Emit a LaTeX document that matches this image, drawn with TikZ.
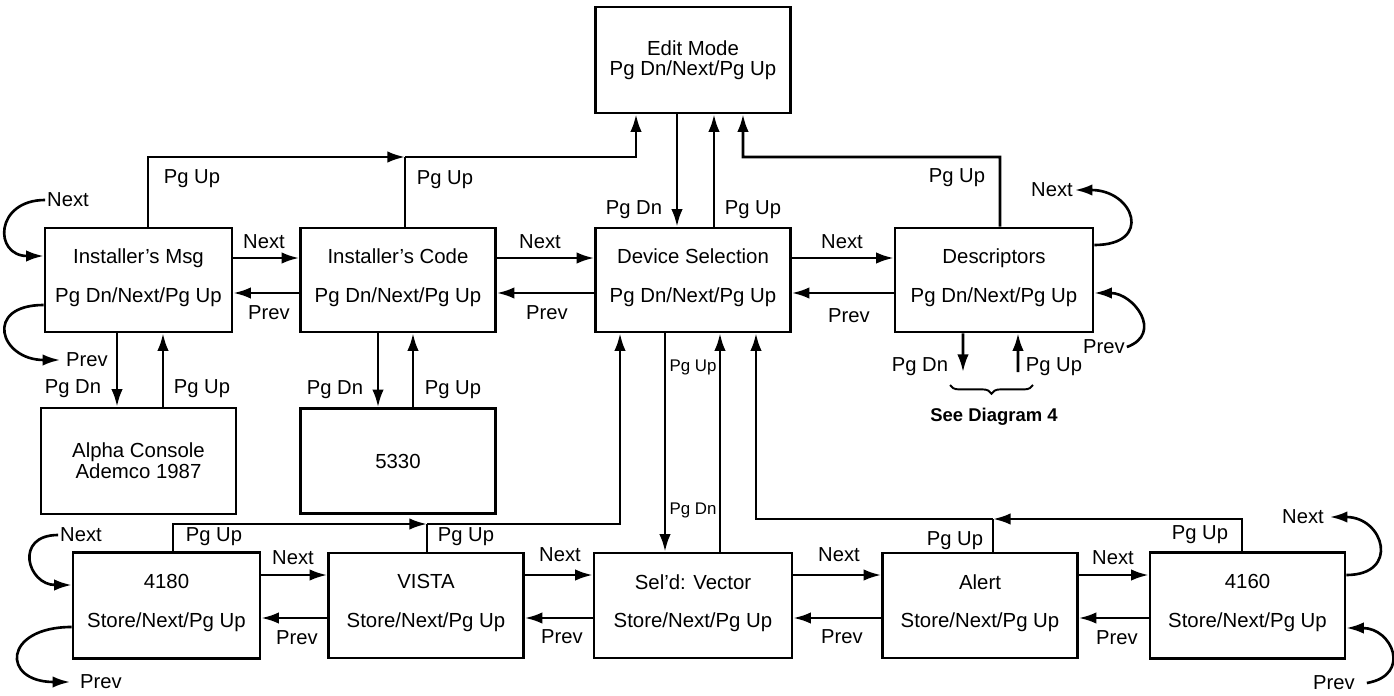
\documentclass[tikz,border=0pt]{standalone}
\usepackage{fontspec}
\setmainfont{Liberation Sans}
\usepackage{tikz}
\usetikzlibrary{arrows.meta, positioning, decorations.pathreplacing}
\tikzset{
  screen/.style={
    rectangle, draw=black, line width=1.5pt, fill=white,
    minimum width=3.9cm, minimum height=2.08cm, align=center,
    inner sep=2pt, font=\fontsize{11.6}{14}\selectfont
  },
  narrow/.style={minimum width=3.74cm},
  twotext/.style={text depth=5pt},
  keylabel/.style={inner sep=1pt, font=\fontsize{11.5}{13}\selectfont},
  smalllabel/.style={inner sep=1pt, font=\fontsize{9.6}{11}\selectfont},
  navarrow/.style={-{Latex[length=10pt,width=6.5pt]}, line width=1.5pt},
  navline/.style={line width=1.5pt},
  seebrace/.style={decorate, decoration={brace, mirror, amplitude=5pt}, line width=1.1pt},
}

\begin{document}
\begin{tikzpicture}[x=0.02cm, y=-0.02cm]
  \useasboundingbox (0,0) rectangle (1394,696);

  % --- Edit mode ---
  \node[screen, minimum height=2.12cm] (edit) at (693,60) {Edit Mode\\[-2.5pt]Pg Dn/Next/Pg Up};

  % --- Upper row ---
  \node[screen, narrow, twotext] (imsg) at (138.5,280) {Installer's Msg\\[8pt]Pg Dn/Next/Pg Up};
  \node[screen, twotext] (icode) at (398,280) {Installer's Code\\[8pt]Pg Dn/Next/Pg Up};
  \node[screen, twotext] (devsel) at (693,280) {Device Selection\\[8pt]Pg Dn/Next/Pg Up};
  \node[screen, twotext, minimum width=3.96cm] (desc) at (994,280) {Descriptors\\[8pt]Pg Dn/Next/Pg Up};

  % --- Sub screens ---
  \node[screen, minimum height=2.12cm] (alpha) at (138.5,461) {Alpha Console\\[-2pt]Ademco 1987};
  \node[screen, minimum height=2.1cm] (n5330) at (398,461) {5330};

  % --- Lower row ---
  \node[screen, narrow, twotext, minimum height=2.12cm] (d4180) at (166.5,605.5) {4180\\[8pt]Store/Next/Pg Up};
  \node[screen, twotext, minimum height=2.1cm] (vista) at (426,605.5) {VISTA\\[8pt]Store/Next/Pg Up};
  \node[screen, twotext, minimum height=2.1cm, minimum width=3.96cm] (vector) at (693,605.5) {Sel'd: Vector\\[8pt]Store/Next/Pg Up};
  \node[screen, twotext, minimum height=2.1cm] (alert) at (980,605.5) {Alert\\[8pt]Store/Next/Pg Up};
  \node[screen, twotext, minimum height=2.12cm] (d4160) at (1247.5,605.5) {4160\\[8pt]Store/Next/Pg Up};

  % --- Pg Up / Pg Dn to edit mode ---
  \coordinate (jtop) at (405,157);
  \coordinate (jright) at (743,157);
  \draw[navarrow] ([xshift=0.19cm]imsg.north) |- (jtop);
  \draw[navarrow] (jtop) -| ([xshift=-1.14cm]edit.south);
  \draw[navline] (jtop |- icode.north) -- (jtop);
  \draw[navarrow] ([xshift=-0.32cm]edit.south) -- ([xshift=-0.32cm]devsel.north);
  \draw[navarrow] ([xshift=0.42cm]devsel.north) -- ([xshift=0.42cm]edit.south);
  \draw[navarrow] ([xshift=0.12cm]desc.north) |- (jright) -- ([xshift=1cm]edit.south);
  \node[keylabel] (upa) at (192,179) {Pg Up};
  \node[keylabel] (upb) at (445,180) {Pg Up};
  \node[keylabel] (dnc) at (634,210) {Pg Dn};
  \node[keylabel] (upc) at (753,210) {Pg Up};
  \node[keylabel] (upd) at (957,178) {Pg Up};

  % --- Upper row next / prev ---
  \draw[navarrow] ([yshift=0.44cm]imsg.east) -- ([yshift=0.44cm]icode.west);
  \draw[navarrow] ([yshift=-0.26cm]icode.west) -- ([yshift=-0.26cm]imsg.east);
  \draw[navarrow] ([yshift=0.44cm]icode.east) -- ([yshift=0.44cm]devsel.west);
  \draw[navarrow] ([yshift=-0.26cm]devsel.west) -- ([yshift=-0.26cm]icode.east);
  \draw[navarrow] ([yshift=0.44cm]devsel.east) -- ([yshift=0.44cm]desc.west);
  \draw[navarrow] ([yshift=-0.26cm]desc.west) -- ([yshift=-0.26cm]devsel.east);
  \node[keylabel] (nxa) at (264,242) {Next};
  \node[keylabel] (pva) at (269,313) {Prev};
  \node[keylabel] (nxb) at (540,242) {Next};
  \node[keylabel] (pvb) at (547,313) {Prev};
  \node[keylabel] (nxc) at (842,242) {Next};
  \node[keylabel] (pvc) at (849,316) {Prev};

  % --- Installer's Msg loops ---
  \node[keylabel] (nxloopa) at (68,200) {Next};
  \draw[navarrow] (nxloopa.west) to[out=180, in=180, looseness=2.3] ([yshift=0.48cm]imsg.west);
  \node[keylabel] (pvloopa) at (87,360) {Prev};
  \draw[navarrow] ([yshift=-0.5cm]imsg.west) to[out=180, in=180, looseness=2.7] ([xshift=-0.08cm]pvloopa.west);

  % --- Down to sub screens ---
  \draw[navarrow] ([xshift=-0.43cm]imsg.south) -- ([xshift=-0.43cm]alpha.north);
  \draw[navarrow] ([xshift=0.49cm]alpha.north) -- ([xshift=0.49cm]imsg.south);
  \draw[navarrow] ([xshift=-0.4cm]icode.south) -- ([xshift=-0.4cm]n5330.north);
  \draw[navarrow] ([xshift=0.3cm]n5330.north) -- ([xshift=0.3cm]icode.south);
  \node[keylabel] (dne) at (73,389) {Pg Dn};
  \node[keylabel] (upe) at (202,389) {Pg Up};
  \node[keylabel] (dnf) at (335,390) {Pg Dn};
  \node[keylabel] (upf) at (453,390) {Pg Up};

  % --- Descriptors ---
  \coordinate (dsdn) at (963,372);
  \coordinate (dsup) at (1018,372);
  \draw[navarrow] ([xshift=-0.62cm]desc.south) -- (dsdn);
  \draw[navarrow] (dsup) -- ([xshift=0.48cm]desc.south);
  \node[keylabel] (dng) at (920,367) {Pg Dn};
  \node[keylabel] (upg) at (1054,367) {Pg Up};
  \coordinate (bra) at (950,385);
  \coordinate (brb) at (1033,385);
  \draw[seebrace] (bra) -- (brb);
  \node[keylabel, font=\fontsize{10.5}{12}\selectfont\bfseries] (seediag) at (994,417) {See Diagram 4};
  \node[keylabel] (nxloopd) at (1052,190) {Next};
  \draw[navarrow] ([yshift=0.7cm]desc.east) to[out=0, in=0, looseness=2.6] (nxloopd.east);
  \node[keylabel] (pvloopd) at (1104,347) {Prev};
  \draw[navarrow] (pvloopd.east) to[out=20, in=0, looseness=1.6] ([yshift=-0.26cm]desc.east);

  % --- Device selection <-> lower row ---
  \coordinate (jlow) at (427,524);
  \coordinate (jalert) at (993,519);
  \draw[navarrow] ([xshift=0.13cm]d4180.north) |- (jlow);
  \draw[navarrow] (jlow) -| ([xshift=-1.46cm]devsel.south);
  \draw[navline] (jlow |- vista.north) -- (jlow);
  \draw[navarrow] ([xshift=-0.56cm]devsel.south) -- ([xshift=-0.56cm]vector.north);
  \draw[navarrow] ([xshift=0.54cm]vector.north) -- ([xshift=0.54cm]devsel.south);
  \draw[navarrow] ([xshift=-0.11cm]d4160.north) |- (jalert);
  \draw[navarrow] (jalert) -| ([xshift=1.26cm]devsel.south);
  \draw[navline] (jalert |- alert.north) -- (jalert);
  \node[keylabel] (uph) at (214,537) {Pg Up};
  \node[keylabel] (upi) at (466,537) {Pg Up};
  \node[smalllabel] (upj) at (693,367) {Pg Up};
  \node[smalllabel] (dnj) at (693,510) {Pg Dn};
  \node[keylabel] (upk) at (955,541) {Pg Up};
  \node[keylabel] (upl) at (1200,535) {Pg Up};

  % --- Lower row next / prev ---
  \draw[navarrow] ([yshift=0.61cm]d4180.east) -- ([yshift=0.61cm]vista.west);
  \draw[navarrow] ([yshift=-0.25cm]vista.west) -- ([yshift=-0.25cm]d4180.east);
  \draw[navarrow] ([yshift=0.61cm]vista.east) -- ([yshift=0.61cm]vector.west);
  \draw[navarrow] ([yshift=-0.25cm]vector.west) -- ([yshift=-0.25cm]vista.east);
  \draw[navarrow] ([yshift=0.61cm]vector.east) -- ([yshift=0.61cm]alert.west);
  \draw[navarrow] ([yshift=-0.25cm]alert.west) -- ([yshift=-0.25cm]vector.east);
  \draw[navarrow] ([yshift=0.61cm]alert.east) -- ([yshift=0.61cm]d4160.west);
  \draw[navarrow] ([yshift=-0.25cm]d4160.west) -- ([yshift=-0.25cm]alert.east);
  \node[keylabel] (nxm) at (293,558) {Next};
  \node[keylabel] (pvm) at (297,638) {Prev};
  \node[keylabel] (nxn) at (560,555) {Next};
  \node[keylabel] (pvn) at (562,637) {Prev};
  \node[keylabel] (nxo) at (839,555) {Next};
  \node[keylabel] (pvo) at (842,637) {Prev};
  \node[keylabel] (nxp) at (1113,558) {Next};
  \node[keylabel] (pvp) at (1117,638) {Prev};

  % --- 4180 and 4160 loops ---
  \node[keylabel] (nxloope) at (81,535) {Next};
  \draw[navarrow] (nxloope.west) to[out=180, in=180, looseness=2.2] ([yshift=0.41cm]d4180.west);
  \node[keylabel] (pvloope) at (101,682) {Prev};
  \draw[navarrow] ([yshift=-0.43cm]d4180.west) to[out=180, in=180, looseness=3.2] ([xshift=-0.16cm]pvloope.west);
  \node[keylabel] (nxloopf) at (1303,517) {Next};
  \draw[navarrow] ([yshift=0.61cm]d4160.east) to[out=0, in=0, looseness=2.3] ([xshift=0.08cm]nxloopf.east);
  \node[keylabel] (pvloopf) at (1334,683) {Prev};
  \draw[navarrow] ([xshift=0.2cm]pvloopf.east) to[out=10, in=0, looseness=2] ([yshift=-0.45cm]d4160.east);

\end{tikzpicture}
\end{document}
